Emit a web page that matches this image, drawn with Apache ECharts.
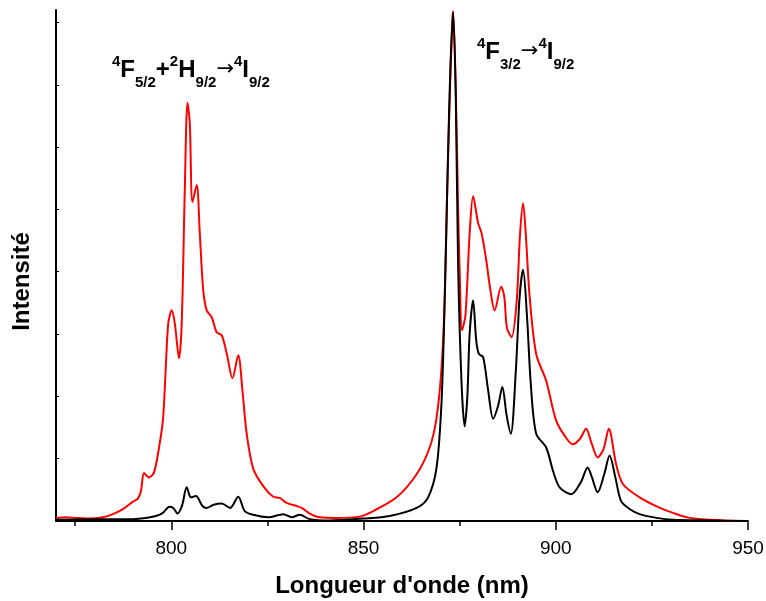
<!DOCTYPE html>
<html>
<head>
<meta charset="utf-8">
<script src="https://cdn.jsdelivr.net/npm/echarts@6/dist/echarts.min.js"></script>
<style>html,body{margin:0;padding:0;background:#fff}#c{width:766px;height:601px}</style>
</head>
<body>
<div id="c"></div>
<script>
// Wavelength (nm) and intensity (a.u.)
const blackX = [770,780,789,793.4,796,797.8,799.5,800.5,801.6,802.8,804,805.1,806.4,808.1,809.2,811,813.1,815.3,817.4,819.1,821.3,825.2,829.1,831.3,833.4,836,841,850,856.8,863.8,866.8,869,870.3,871.1,871.9,872.6,873.3,874,874.6,875.5,876.3,877,877.6,878.5,879.3,880,881.1,882.4,883.7,885,886.1,887.2,888.3,889.6,890.6,891.5,892.5,893.5,894.9,897.5,899.3,901,904,906.5,908.3,909.3,910.9,912.6,914,915.5,917,919.5,921.8,926.2,930.5,940,950];
const blackY = [0.02,0.03,0.03,0.05,0.08,0.13,0.23,0.21,0.12,0.25,0.54,0.38,0.40,0.24,0.21,0.26,0.28,0.21,0.39,0.16,0.10,0.06,0.11,0.06,0.10,0.03,0.01,0.04,0.08,0.21,0.38,0.86,1.93,3.54,5.69,7.3,8.16,6.76,4.08,2.2,1.52,2.0,3.01,3.54,2.9,2.68,2.63,2.1,1.64,1.85,2.15,1.7,1.40,2.4,3.6,4.03,3.3,2.2,1.40,1.18,0.8,0.54,0.43,0.62,0.86,0.72,0.46,0.75,1.05,0.7,0.32,0.18,0.11,0.05,0.02,0.01,0.0];
const redX = [770,772.6,775.2,778.6,782.2,784.8,787.4,790,791.3,792.1,792.9,794.2,795.5,796.8,797.8,798.3,799.2,800.1,800.9,802,802.7,803.5,804.2,804.8,805.5,806.6,807.4,808.3,809.2,810.5,811.8,813.1,814.4,815.9,817.4,818.5,819.6,821.3,823.9,826.5,828.2,830,832.6,833.9,836,838.6,843,849,852.5,858.6,863.8,867.2,869,870.3,871.1,871.7,872.4,873.1,873.3,874,874.6,875,875.6,876.5,877.6,878.5,879.8,880.7,881.9,883,884.1,885.8,886.6,887.3,888.5,889.8,890.7,891.5,892.2,893.2,894.9,897.5,900.1,902.5,904.4,906.3,907.9,909.3,910.9,912.4,913.8,915.7,917.5,921.8,926.1,930.5,934.8,943.5,950];
const redY = [0.05,0.06,0.05,0.04,0.06,0.11,0.19,0.31,0.36,0.48,0.77,0.70,0.78,1.18,1.61,2.13,3.17,3.38,3.17,2.61,3.17,5.31,6.71,6.39,5.12,5.39,4.62,3.70,3.38,3.27,3.03,2.98,2.69,2.29,2.66,2.09,1.40,0.84,0.56,0.39,0.37,0.29,0.24,0.21,0.12,0.06,0.05,0.07,0.16,0.38,0.75,1.18,1.66,2.47,3.54,5.15,6.76,8.05,8.18,6.9,5.0,4.0,3.06,3.3,4.62,5.21,4.78,4.62,4.19,3.7,3.38,3.76,3.6,3.1,2.95,3.5,4.6,5.10,4.6,3.60,2.68,2.25,1.61,1.35,1.23,1.32,1.48,1.25,1.02,1.15,1.48,0.91,0.59,0.38,0.24,0.13,0.05,0.01,0.0];
const xMajorTicks = [800,850,900,950];
const xMinorTicks = [775,825,875,925];
const yTicks = [1,2,3,4,5,6,7,8];
const xName = "Longueur d'onde (nm)";
const yName = "Intensité";

const FF = "'Liberation Sans', Arial, sans-serif";
const zip = (xs, ys) => xs.map((x, i) => [x, ys[i]]);
const chart = echarts.init(document.getElementById('c'));
const labelRich = {
  m:   {fontFamily: FF, fontSize: 24, fontWeight: 'bold', color: '#000', lineHeight: 40, verticalAlign: 'middle'},
  sup: {fontFamily: FF, fontSize: 15, fontWeight: 'bold', color: '#000', lineHeight: 40, verticalAlign: 'top', padding: [4, 0, 0, 0]},
  sub: {fontFamily: FF, fontSize: 15, fontWeight: 'bold', color: '#000', lineHeight: 40, verticalAlign: 'bottom'},
  ar:  {fontFamily: "'DejaVu Sans', sans-serif", fontSize: 21, fontWeight: 'normal', color: '#000', lineHeight: 40, verticalAlign: 'middle'}
};
chart.setOption({
  animation: false,
  grid: {left: 56, right: 18, top: 10, bottom: 80, outerBoundsMode: 'none', containLabel: false},
  xAxis: [{
    type: 'value', min: 770, max: 950, position: 'bottom',
    name: xName, nameLocation: 'middle', nameGap: 53,
    nameTextStyle: {fontFamily: FF, fontSize: 24, fontWeight: 'bold', color: '#000'},
    axisLine: {show: true, onZero: false, lineStyle: {color: '#000', width: 2}},
    axisTick: {show: true, inside: false, length: 9, customValues: xMajorTicks, lineStyle: {color: '#000', width: 1.5}},
    axisLabel: {show: true, customValues: xMajorTicks, margin: 18, fontFamily: FF, fontSize: 19, color: '#000'},
    splitLine: {show: false}
  }, {
    type: 'value', min: 770, max: 950, position: 'bottom',
    axisLine: {show: false, onZero: false},
    axisTick: {show: true, inside: false, length: 5, customValues: xMinorTicks, lineStyle: {color: '#000', width: 1.5}},
    axisLabel: {show: false},
    splitLine: {show: false}
  }],
  yAxis: {
    type: 'value', min: 0, max: 8.2,
    name: yName, nameLocation: 'middle', nameGap: 22,
    nameTextStyle: {fontFamily: FF, fontSize: 24, fontWeight: 'bold', color: '#000', padding: [0, 32, 0, 0]},
    axisLine: {show: true, onZero: false, lineStyle: {color: '#000', width: 2}},
    axisTick: {show: true, inside: true, length: 3, customValues: yTicks, lineStyle: {color: '#000', width: 1}},
    axisLabel: {show: false},
    splitLine: {show: false}
  },
  graphic: [
    {type: 'text', left: 112, top: 50, style: {text: '{sup|4}{m|F}{sub|5/2}{m|+}{sup|2}{m|H}{sub|9/2}{ar|→}{sup|4}{m|I}{sub|9/2}', rich: labelRich}},
    {type: 'text', left: 477, top: 32, style: {text: '{sup|4}{m|F}{sub|3/2}{ar|→}{sup|4}{m|I}{sub|9/2}', rich: labelRich}}
  ],
  series: [
    {type: 'line', name: 'red', data: zip(redX, redY), showSymbol: false, smooth: 0.3, lineStyle: {color: '#ff0000', width: 2}, z: 2},
    {type: 'line', name: 'black', data: zip(blackX, blackY), showSymbol: false, smooth: 0.3, lineStyle: {color: '#000000', width: 2}, z: 3}
  ]
});
</script>
</body>
</html>
